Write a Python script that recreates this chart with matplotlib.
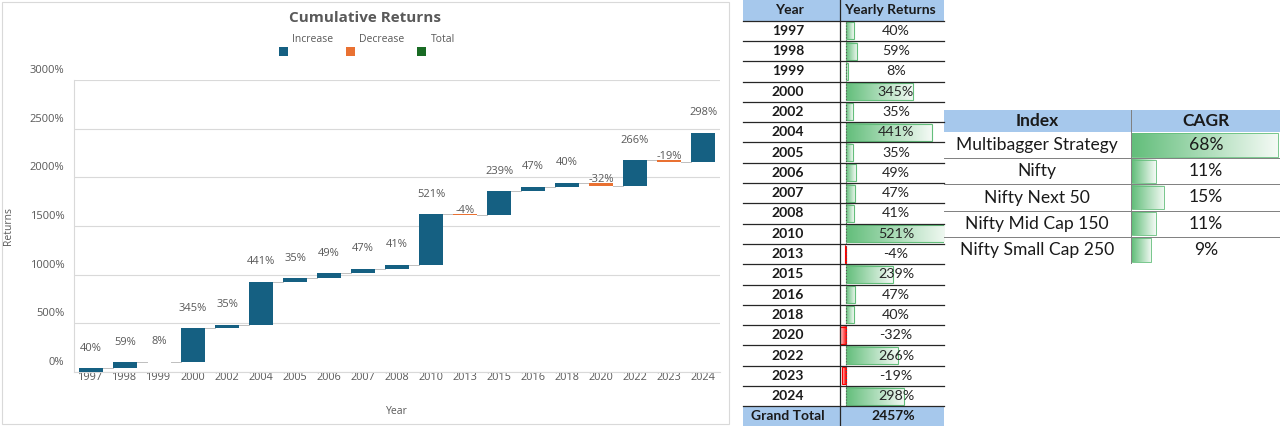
import numpy as np
import matplotlib.pyplot as plt
from matplotlib.patches import Rectangle
from matplotlib.colors import LinearSegmentedColormap
from matplotlib.transforms import ScaledTranslation

# data
years = ['1997', '1998', '1999', '2000', '2002', '2004', '2005', '2006', '2007', '2008',
         '2010', '2013', '2015', '2016', '2018', '2020', '2022', '2023', '2024']
returns = [40, 59, 8, 345, 35, 441, 35, 49, 47, 41, 521, -4, 239, 47, 40, -32, 266, -19, 298]
grand_total = 2457
index_names = ['Multibagger Strategy', 'Nifty', 'Nifty Next 50', 'Nifty Mid Cap 150', 'Nifty Small Cap 250']
cagr = [68, 11, 15, 11, 9]

W, H = 1280, 426
BLUE = '#156082'
ORANGE = '#E97132'
GREEN = '#196B24'
GRAY = '#595959'
HEAD = '#A6C8EC'
BAR_GREEN = '#63BE7B'
BAR_RED = '#FF0000'
TFONT = 'Lato'

plt.rcParams['font.family'] = ['Open Sans', 'DejaVu Sans']

fig = plt.figure(figsize=(W / 100, H / 100), dpi=100)


def px_axes(x0, y0, x1, y1, z=1):
    # axes placed in pixel coords (top-left origin)
    a = fig.add_axes([x0 / W, 1 - y1 / H, (x1 - x0) / W, (y1 - y0) / H], zorder=z)
    a.set_facecolor('none')
    return a


def overlay(z):
    a = px_axes(0, 0, W, H, z)
    a.set_xlim(0, W)
    a.set_ylim(H, 0)
    a.axis('off')
    return a


def fill_gradient(ax, bars, color, light):
    cmap = LinearSegmentedColormap.from_list('bar', [color, light])
    grad = np.linspace(0, 1, 100).reshape(1, -1)
    for b in bars:
        x0, y0 = b.get_xy()
        w, h = b.get_width(), b.get_height()
        img = ax.imshow(grad, cmap=cmap, extent=[x0, x0 + w, y0, y0 + h],
                        aspect='auto', zorder=1, interpolation='bilinear')
        img.set_clip_path(b)
        img.set_clip_box(ax.bbox)


under = overlay(0)
over = overlay(5)

# ---------------- waterfall chart ----------------
under.add_patch(Rectangle((2, 2), 727, 422, fill=False, ec='#D9D9D9', lw=0.8))

ax = px_axes(74, 80, 720, 372, 2)
cum = np.cumsum(returns)
prev = cum - np.array(returns)
x = np.arange(len(years))
bottoms = np.minimum(prev, cum)
colors = [BLUE if r >= 0 else ORANGE for r in returns]
bw = 0.68
ax.bar(x, np.abs(returns), bottom=bottoms, width=bw, color=colors, zorder=3)
for i in range(len(x) - 1):
    ax.plot([x[i] + bw / 2, x[i + 1] - bw / 2], [cum[i], cum[i]], color='#BFBFBF', lw=0.7, zorder=2)

for i, r in enumerate(returns):
    if r >= 0:
        ax.annotate(f'{r}%', (x[i], cum[i]), xytext=(0, 14.4), textcoords='offset points',
                    ha='center', va='center', fontsize=8, color=GRAY, zorder=4)
    else:
        ax.annotate(f'{r}%', (x[i], prev[i]), xytext=(0, 2.4), textcoords='offset points',
                    ha='center', va='center', fontsize=8, color=GRAY, zorder=4)

ax.set_xlim(-0.5, len(x) - 0.5)
ax.set_ylim(0, 3000)
ax.set_yticks(range(0, 3001, 500))
ax.set_yticklabels([f'{v}%' for v in range(0, 3001, 500)])
ax.set_xticks(x)
ax.set_xticklabels(years)
ax.tick_params(axis='y', length=0, pad=7, labelsize=8, labelcolor=GRAY)
ax.tick_params(axis='x', length=0, pad=0, labelsize=7.8, labelcolor=GRAY)
for lab in ax.get_yticklabels():
    lab.set_transform(lab.get_transform() + ScaledTranslation(0, 0.11, fig.dpi_scale_trans))
ax.yaxis.grid(True, color='#D9D9D9', lw=0.8)
ax.set_axisbelow(True)
for s in ['top', 'right']:
    ax.spines[s].set_visible(False)
ax.spines['left'].set_color('#D9D9D9')
ax.spines['bottom'].set_color('#D9D9D9')

ax.set_ylabel('Returns', fontsize=7.5, color=GRAY)
ax.yaxis.set_label_coords(-0.093, 0.5)
ax.set_xlabel('Year', fontsize=7.5, color=GRAY)
ax.xaxis.label.set_va('center')
ax.xaxis.set_label_coords(0.5, -0.134)

fig.text(365 / W, 1 - 18 / H, 'Cumulative Returns', ha='center', va='center',
         fontsize=11, fontweight='bold', color=GRAY)

legend_items = [('Increase', BLUE, 279, 292), ('Decrease', ORANGE, 346, 359), ('Total', GREEN, 417, 431)]
for name, c, sx, tx in legend_items:
    under.add_patch(Rectangle((sx, 47), 8.5, 8.5, color=c, lw=0))
    under.text(tx, 39, name, ha='left', va='center', fontsize=7.5, color=GRAY)

# ---------------- yearly returns table ----------------
n = len(years)
row_top, row_h = 20.6, 20.3
t_left, t_mid, t_right = 743, 840, 944
under.add_patch(Rectangle((t_left, 0), t_right - t_left, row_top, color=HEAD, lw=0))
under.add_patch(Rectangle((t_left, row_top + n * row_h), t_right - t_left, H, color=HEAD, lw=0))
for k in range(n + 1):
    y = row_top + k * row_h
    over.plot([t_left, t_right], [y, y], color='#262626', lw=0.9)
over.plot([t_mid, t_mid], [0, H], color='#262626', lw=0.9)

over.text(789, row_top / 2, 'Year', ha='center', va='center', fontsize=10,
          fontweight='bold', family=TFONT, color='#1a1a1a')
over.text(890, row_top / 2, 'Yearly Returns', ha='center', va='center', fontsize=10,
          fontweight='bold', family=TFONT, color='#1a1a1a')
for i, (yr, r) in enumerate(zip(years, returns)):
    yc = row_top + (i + 0.5) * row_h
    over.text(788, yc, yr, ha='center', va='center', fontsize=10, fontweight='bold',
              family=TFONT, color='#1a1a1a')
    over.text(896, yc, f'{r}%', ha='center', va='center', fontsize=10.3,
              family=TFONT, color='#262626')
yc = row_top + (n + 0.5) * row_h
over.text(788, yc, 'Grand Total', ha='center', va='center', fontsize=10, fontweight='bold',
          family=TFONT, color='#1a1a1a')
over.text(893, yc, f'{grand_total}%', ha='center', va='center', fontsize=10, fontweight='bold',
          family=TFONT, color='#1a1a1a')

axy = px_axes(838, row_top, t_right, row_top + n * row_h, 2)
bar_cols = [BAR_GREEN if r >= 0 else BAR_RED for r in returns]
yb = axy.barh(range(n), returns, height=0.84, facecolor='none', edgecolor=bar_cols, lw=0.8, zorder=2)
fill_gradient(axy, [b for b, r in zip(yb, returns) if r >= 0], BAR_GREEN, '#F4FAF5')
fill_gradient(axy, [b for b, r in zip(yb, returns) if r < 0], BAR_RED, '#FFE0E0')
axy.axvline(0, color='#555555', ls=':', lw=0.8, zorder=3)
axy.set_xlim(-41, 502.6)
axy.set_ylim(n - 0.5, -0.5)
axy.axis('off')

# ---------------- CAGR table ----------------
m = len(index_names)
r_top, r_h = 132, 26.2
c_left, c_mid = 944, 1131
under.add_patch(Rectangle((c_left, 110), W - c_left, r_top - 110, color=HEAD, lw=0))
for k in range(1, m):
    y = r_top + k * r_h
    over.plot([c_left, W], [y, y], color='#7F7F7F', lw=0.7)
over.plot([c_mid, c_mid], [110, r_top + m * r_h], color='#7F7F7F', lw=0.7)
over.text(1037, 121, 'Index', ha='center', va='center', fontsize=12.5, fontweight='bold',
          family=TFONT, color='#1a1a1a')
over.text(1206, 121, 'CAGR', ha='center', va='center', fontsize=12.5, fontweight='bold',
          family=TFONT, color='#1a1a1a')
for i, (nm, c) in enumerate(zip(index_names, cagr)):
    yc = r_top + (i + 0.5) * r_h
    over.text(1037, yc, nm, ha='center', va='center', fontsize=12.6, family=TFONT, color='#1a1a1a')
    over.text(1206, yc, f'{c}%', ha='center', va='center', fontsize=12.6, family=TFONT, color='#1a1a1a')

axc = px_axes(c_mid, r_top, W, r_top + m * r_h, 2)
cb = axc.barh(range(m), cagr, height=0.9, facecolor='none', edgecolor=BAR_GREEN, lw=0.6, zorder=2)
fill_gradient(axc, cb, BAR_GREEN, '#F4FAF5')
axc.set_xlim(-0.47, 68.93)
axc.set_ylim(m - 0.5, -0.5)
axc.axis('off')

fig.savefig('out.png', dpi=100)
